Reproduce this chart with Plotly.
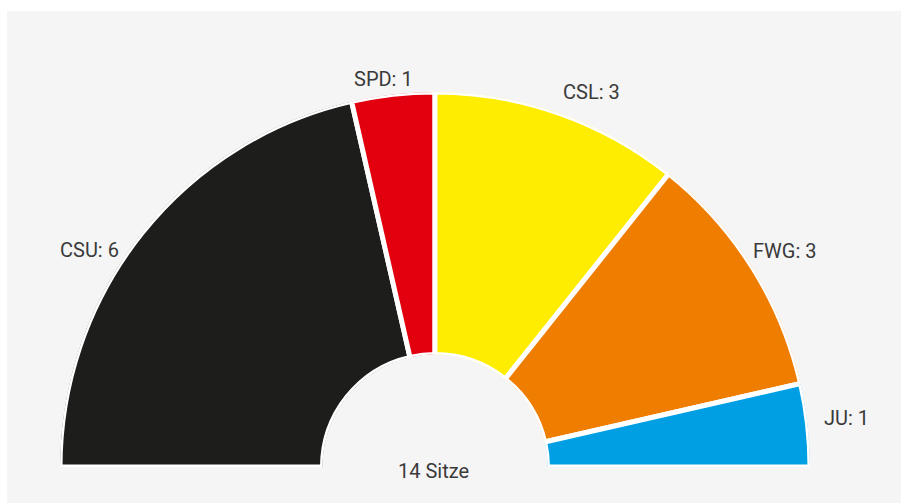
import plotly.graph_objects as go
import numpy as np

parties = ["CSU", "SPD", "CSL", "FWG", "JU"]
seats = [6, 1, 3, 3, 1]
colors = ["#1d1d1b", "#e2000f", "#ffed00", "#ef7d00", "#009fe3"]
total_label = "14 Sitze"

# label placement tweaks (distance as fraction of outer radius, angular nudge in screen degrees)
label_dist = [1.087, 1.043, 1.084, 1.096, 1.104]
label_dangle = [6.4, 1.1, -3.3, -0.4, 0.4]

total = sum(seats)
deg_per_seat = 180.0 / total
widths = [s * deg_per_seat for s in seats]
ends = np.cumsum(widths)
centers = [e - w / 2 for e, w in zip(ends, widths)]

L, R, T, B = 60, 91, 92, 36
W, H = 901, 503
pw, ph = W - L - R, H - T - B
radius_px = ph

fig = go.Figure()
fig.add_trace(go.Barpolar(
    r=[1] * len(seats),
    theta=centers,
    width=widths,
    marker=dict(color=colors, line=dict(color="white", width=5)),
    hoverinfo="skip",
    showlegend=False,
))

font = dict(family="Roboto", size=20, color="#3a3a3a")
annotations = []
for p, s, c, d, da in zip(parties, seats, centers, label_dist, label_dangle):
    a = np.deg2rad(180 - c + da)  # screen angle (counterclockwise from right)
    annotations.append(dict(
        text=f"{p}: {s}", xref="paper", yref="paper",
        x=0.5 + d * radius_px * np.cos(a) / pw,
        y=d * radius_px * np.sin(a) / ph,
        xanchor="center", yanchor="middle", showarrow=False, font=font,
    ))
annotations.append(dict(
    text=total_label, xref="paper", yref="paper",
    x=(433 - L) / pw, y=-4 / ph,
    xanchor="center", yanchor="middle", showarrow=False, font=font,
))

fig.update_layout(
    width=W, height=H,
    margin=dict(l=L, r=R, t=T, b=B),
    paper_bgcolor="#f5f5f5",
    plot_bgcolor="#f5f5f5",
    polar=dict(
        domain=dict(x=[0, 1], y=[0, 1]),
        sector=[0, 180],
        hole=0.3,
        bgcolor="rgba(0,0,0,0)",
        radialaxis=dict(visible=False, range=[0, 1]),
        angularaxis=dict(visible=False, direction="clockwise", rotation=180),
    ),
    shapes=[
        dict(type="rect", xref="paper", yref="paper", layer="below",
             x0=-L / pw - 0.01, x1=(W - L) / pw + 0.01,
             y0=(H - B - 11) / ph, y1=(H - B) / ph + 0.02,
             fillcolor="white", line=dict(width=0)),
        dict(type="rect", xref="paper", yref="paper", layer="below",
             x0=-L / pw - 0.01, x1=(7 - L) / pw,
             y0=-B / ph - 0.01, y1=(H - B) / ph + 0.02,
             fillcolor="white", line=dict(width=0)),
    ],
    annotations=annotations,
)

fig.write_html("out.html", config={"displayModeBar": False},
               post_script="document.body.style.margin='0px';")
